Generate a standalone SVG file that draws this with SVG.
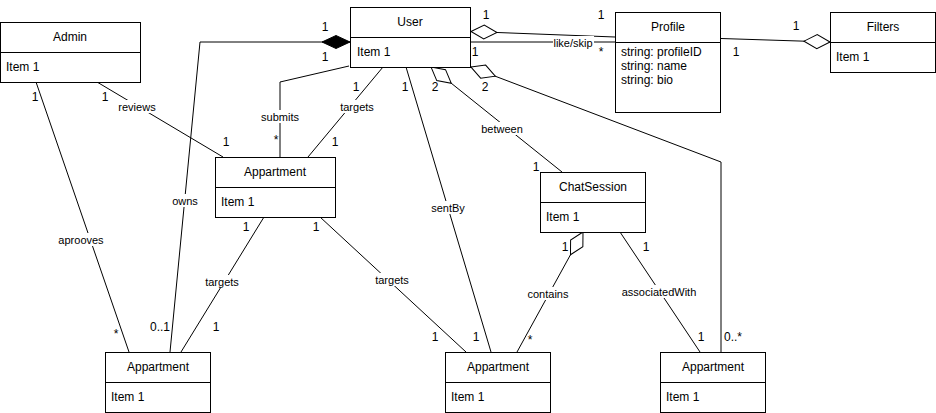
<svg xmlns="http://www.w3.org/2000/svg" width="936" height="413" viewBox="0 0 936 413">
  <defs>
    <marker id="diamondOpen" markerUnits="userSpaceOnUse" markerWidth="30" markerHeight="18" refX="0" refY="0" viewBox="-1 -9 30 18" orient="auto" overflow="visible">
      <path d="M0,0 L13,-7 L26,0 L13,7 Z" fill="#ffffff" stroke="#000" stroke-width="1"/>
    </marker>
    <marker id="diamondFilled" markerUnits="userSpaceOnUse" markerWidth="30" markerHeight="18" refX="0" refY="0" viewBox="-1 -9 30 18" orient="auto" overflow="visible">
      <path d="M0,0 L14,-6.5 L28,0 L14,6.5 Z" fill="#000" stroke="#000" stroke-width="1"/>
    </marker>
  </defs>
  <style>
    text { font-family: "Liberation Sans", Arial, sans-serif; fill: #000; }
    .box { fill: #fff; stroke: #000; stroke-width: 1; }
    .title { font-size: 12px; text-anchor: middle; }
    .item { font-size: 12px; }
    .edge { fill: none; stroke: #000; stroke-width: 1; }
    .lbl { font-size: 11px; text-anchor: middle; }
    .lblbg { fill: #fff; }
    .mult { font-size: 12px; text-anchor: middle; }
  </style>
  <rect width="936" height="413" fill="#fff"/>

  <!-- connectors -->
  <g id="connectors">
    <!-- User owns Appartment (composition) -->
    <path class="edge" d="M350,42 L200,42 L170,352" marker-start="url(#diamondFilled)"/>
    <!-- Admin reviews Appartment -->
    <path class="edge" d="M97,82 L223,157"/>
    <!-- Admin aprooves Appartment -->
    <path class="edge" d="M36,82 L129,352"/>
    <!-- User submits Appartment -->
    <path class="edge" d="M349,66 L280,82 L280,157"/>
    <!-- User targets Appartment -->
    <path class="edge" d="M383,67 L308,157"/>
    <!-- User sentBy Appartment -->
    <path class="edge" d="M406,67 L491,352"/>
    <!-- User between ChatSession -->
    <path class="edge" d="M431,67 L562,172" marker-start="url(#diamondOpen)"/>
    <!-- User to Appartment (0..*) -->
    <path class="edge" d="M471,67 L721,162 L721,352" marker-start="url(#diamondOpen)"/>
    <!-- User to Profile -->
    <path class="edge" d="M471,31.5 L615,37" marker-start="url(#diamondOpen)"/>
    <!-- User like/skip Profile -->
    <path class="edge" d="M470,42 L615,42"/>
    <!-- Filters to Profile -->
    <path class="edge" d="M830,42 L721,38.5" marker-start="url(#diamondOpen)"/>
    <!-- Appartment targets Appartment (left) -->
    <path class="edge" d="M264,217 L181,352"/>
    <!-- Appartment targets Appartment (middle) -->
    <path class="edge" d="M320,217 L466,352"/>
    <!-- ChatSession contains Appartment -->
    <path class="edge" d="M583,232 L517,352" marker-start="url(#diamondOpen)"/>
    <!-- ChatSession associatedWith Appartment -->
    <path class="edge" d="M620,232 L700,352"/>

    <!-- association names -->
    <rect class="lblbg" x="118" y="100" width="38" height="13"/>
    <text class="lbl" x="137" y="111">reviews</text>
    <rect class="lblbg" x="57" y="233" width="47" height="13"/>
    <text class="lbl" x="81" y="244">aprooves</text>
    <rect class="lblbg" x="172" y="194" width="27" height="13"/>
    <text class="lbl" x="185" y="205">owns</text>
    <rect class="lblbg" x="261" y="110" width="39" height="13"/>
    <text class="lbl" x="280" y="121">submits</text>
    <rect class="lblbg" x="340" y="100" width="35" height="13"/>
    <text class="lbl" x="357" y="111">targets</text>
    <rect class="lblbg" x="431" y="201" width="35" height="13"/>
    <text class="lbl" x="448" y="212">sentBy</text>
    <rect class="lblbg" x="481" y="122" width="43" height="13"/>
    <text class="lbl" x="502" y="133">between</text>
    <rect class="lblbg" x="553" y="36" width="41" height="13"/>
    <text class="lbl" x="573" y="47">like/skip</text>
    <rect class="lblbg" x="205" y="275" width="35" height="13"/>
    <text class="lbl" x="222" y="286">targets</text>
    <rect class="lblbg" x="375" y="273" width="35" height="13"/>
    <text class="lbl" x="392" y="284">targets</text>
    <rect class="lblbg" x="527" y="287" width="43" height="13"/>
    <text class="lbl" x="548" y="298">contains</text>
    <rect class="lblbg" x="621" y="285" width="76" height="13"/>
    <text class="lbl" x="659" y="296">associatedWith</text>

    <!-- multiplicities -->
    <text class="mult" x="325" y="31">1</text>
    <text class="mult" x="325" y="61">1</text>
    <text class="mult" x="160" y="331">0..1</text>
    <text class="mult" x="105" y="101">1</text>
    <text class="mult" x="226" y="146">1</text>
    <text class="mult" x="35" y="101">1</text>
    <text class="mult" x="116" y="338">*</text>
    <text class="mult" x="276" y="144">*</text>
    <text class="mult" x="356" y="91">1</text>
    <text class="mult" x="335" y="146">1</text>
    <text class="mult" x="405" y="91">1</text>
    <text class="mult" x="476" y="341">1</text>
    <text class="mult" x="435" y="91">2</text>
    <text class="mult" x="536" y="171">1</text>
    <text class="mult" x="485" y="91">2</text>
    <text class="mult" x="733" y="341">0..*</text>
    <text class="mult" x="486" y="19">1</text>
    <text class="mult" x="601" y="19">1</text>
    <text class="mult" x="475" y="56">1</text>
    <text class="mult" x="601" y="56">*</text>
    <text class="mult" x="796" y="30">1</text>
    <text class="mult" x="736" y="56">1</text>
    <text class="mult" x="246" y="231">1</text>
    <text class="mult" x="216" y="331">1</text>
    <text class="mult" x="316" y="231">1</text>
    <text class="mult" x="435" y="341">1</text>
    <text class="mult" x="565" y="251">1</text>
    <text class="mult" x="530" y="344">*</text>
    <text class="mult" x="646" y="251">1</text>
    <text class="mult" x="701" y="341">1</text>
  </g>

  <!-- classes -->
  <g id="user">
    <rect class="box" x="350.5" y="7.5" width="120" height="60"/>
    <line x1="350.5" y1="37.5" x2="470.5" y2="37.5" stroke="#000"/>
    <text class="title" x="410" y="26">User</text>
    <text class="item" x="357" y="56">Item 1</text>
  </g>
  <g id="profile">
    <rect class="box" x="615.5" y="12.5" width="105" height="100"/>
    <line x1="615.5" y1="42.5" x2="720.5" y2="42.5" stroke="#000"/>
    <text class="title" x="668" y="31">Profile</text>
    <text class="item" x="621" y="56">string: profileID</text>
    <text class="item" x="621" y="70">string: name</text>
    <text class="item" x="621" y="84">string: bio</text>
  </g>
  <g id="filters">
    <rect class="box" x="830.5" y="12.5" width="105" height="60"/>
    <line x1="830.5" y1="42.5" x2="935.5" y2="42.5" stroke="#000"/>
    <text class="title" x="883" y="31">Filters</text>
    <text class="item" x="836" y="61">Item 1</text>
  </g>
  <g id="admin">
    <rect class="box" x="0.5" y="22.5" width="140" height="60"/>
    <line x1="0.5" y1="52.5" x2="140.5" y2="52.5" stroke="#000"/>
    <text class="title" x="70" y="41">Admin</text>
    <text class="item" x="6" y="71">Item 1</text>
  </g>
  <g id="appartment-top">
    <rect class="box" x="215.5" y="157.5" width="120" height="60"/>
    <line x1="215.5" y1="187.5" x2="335.5" y2="187.5" stroke="#000"/>
    <text class="title" x="275" y="176">Appartment</text>
    <text class="item" x="221" y="206">Item 1</text>
  </g>
  <g id="chatsession">
    <rect class="box" x="540.5" y="172.5" width="105" height="60"/>
    <line x1="540.5" y1="202.5" x2="645.5" y2="202.5" stroke="#000"/>
    <text class="title" x="593" y="191">ChatSession</text>
    <text class="item" x="546" y="221">Item 1</text>
  </g>
  <g id="appartment-left">
    <rect class="box" x="105.5" y="352.5" width="105" height="60"/>
    <line x1="105.5" y1="382.5" x2="210.5" y2="382.5" stroke="#000"/>
    <text class="title" x="158" y="371">Appartment</text>
    <text class="item" x="111" y="401">Item 1</text>
  </g>
  <g id="appartment-middle">
    <rect class="box" x="445.5" y="352.5" width="105" height="60"/>
    <line x1="445.5" y1="382.5" x2="550.5" y2="382.5" stroke="#000"/>
    <text class="title" x="498" y="371">Appartment</text>
    <text class="item" x="451" y="401">Item 1</text>
  </g>
  <g id="appartment-right">
    <rect class="box" x="660.5" y="352.5" width="105" height="60"/>
    <line x1="660.5" y1="382.5" x2="765.5" y2="382.5" stroke="#000"/>
    <text class="title" x="713" y="371">Appartment</text>
    <text class="item" x="666" y="401">Item 1</text>
  </g>
</svg>
